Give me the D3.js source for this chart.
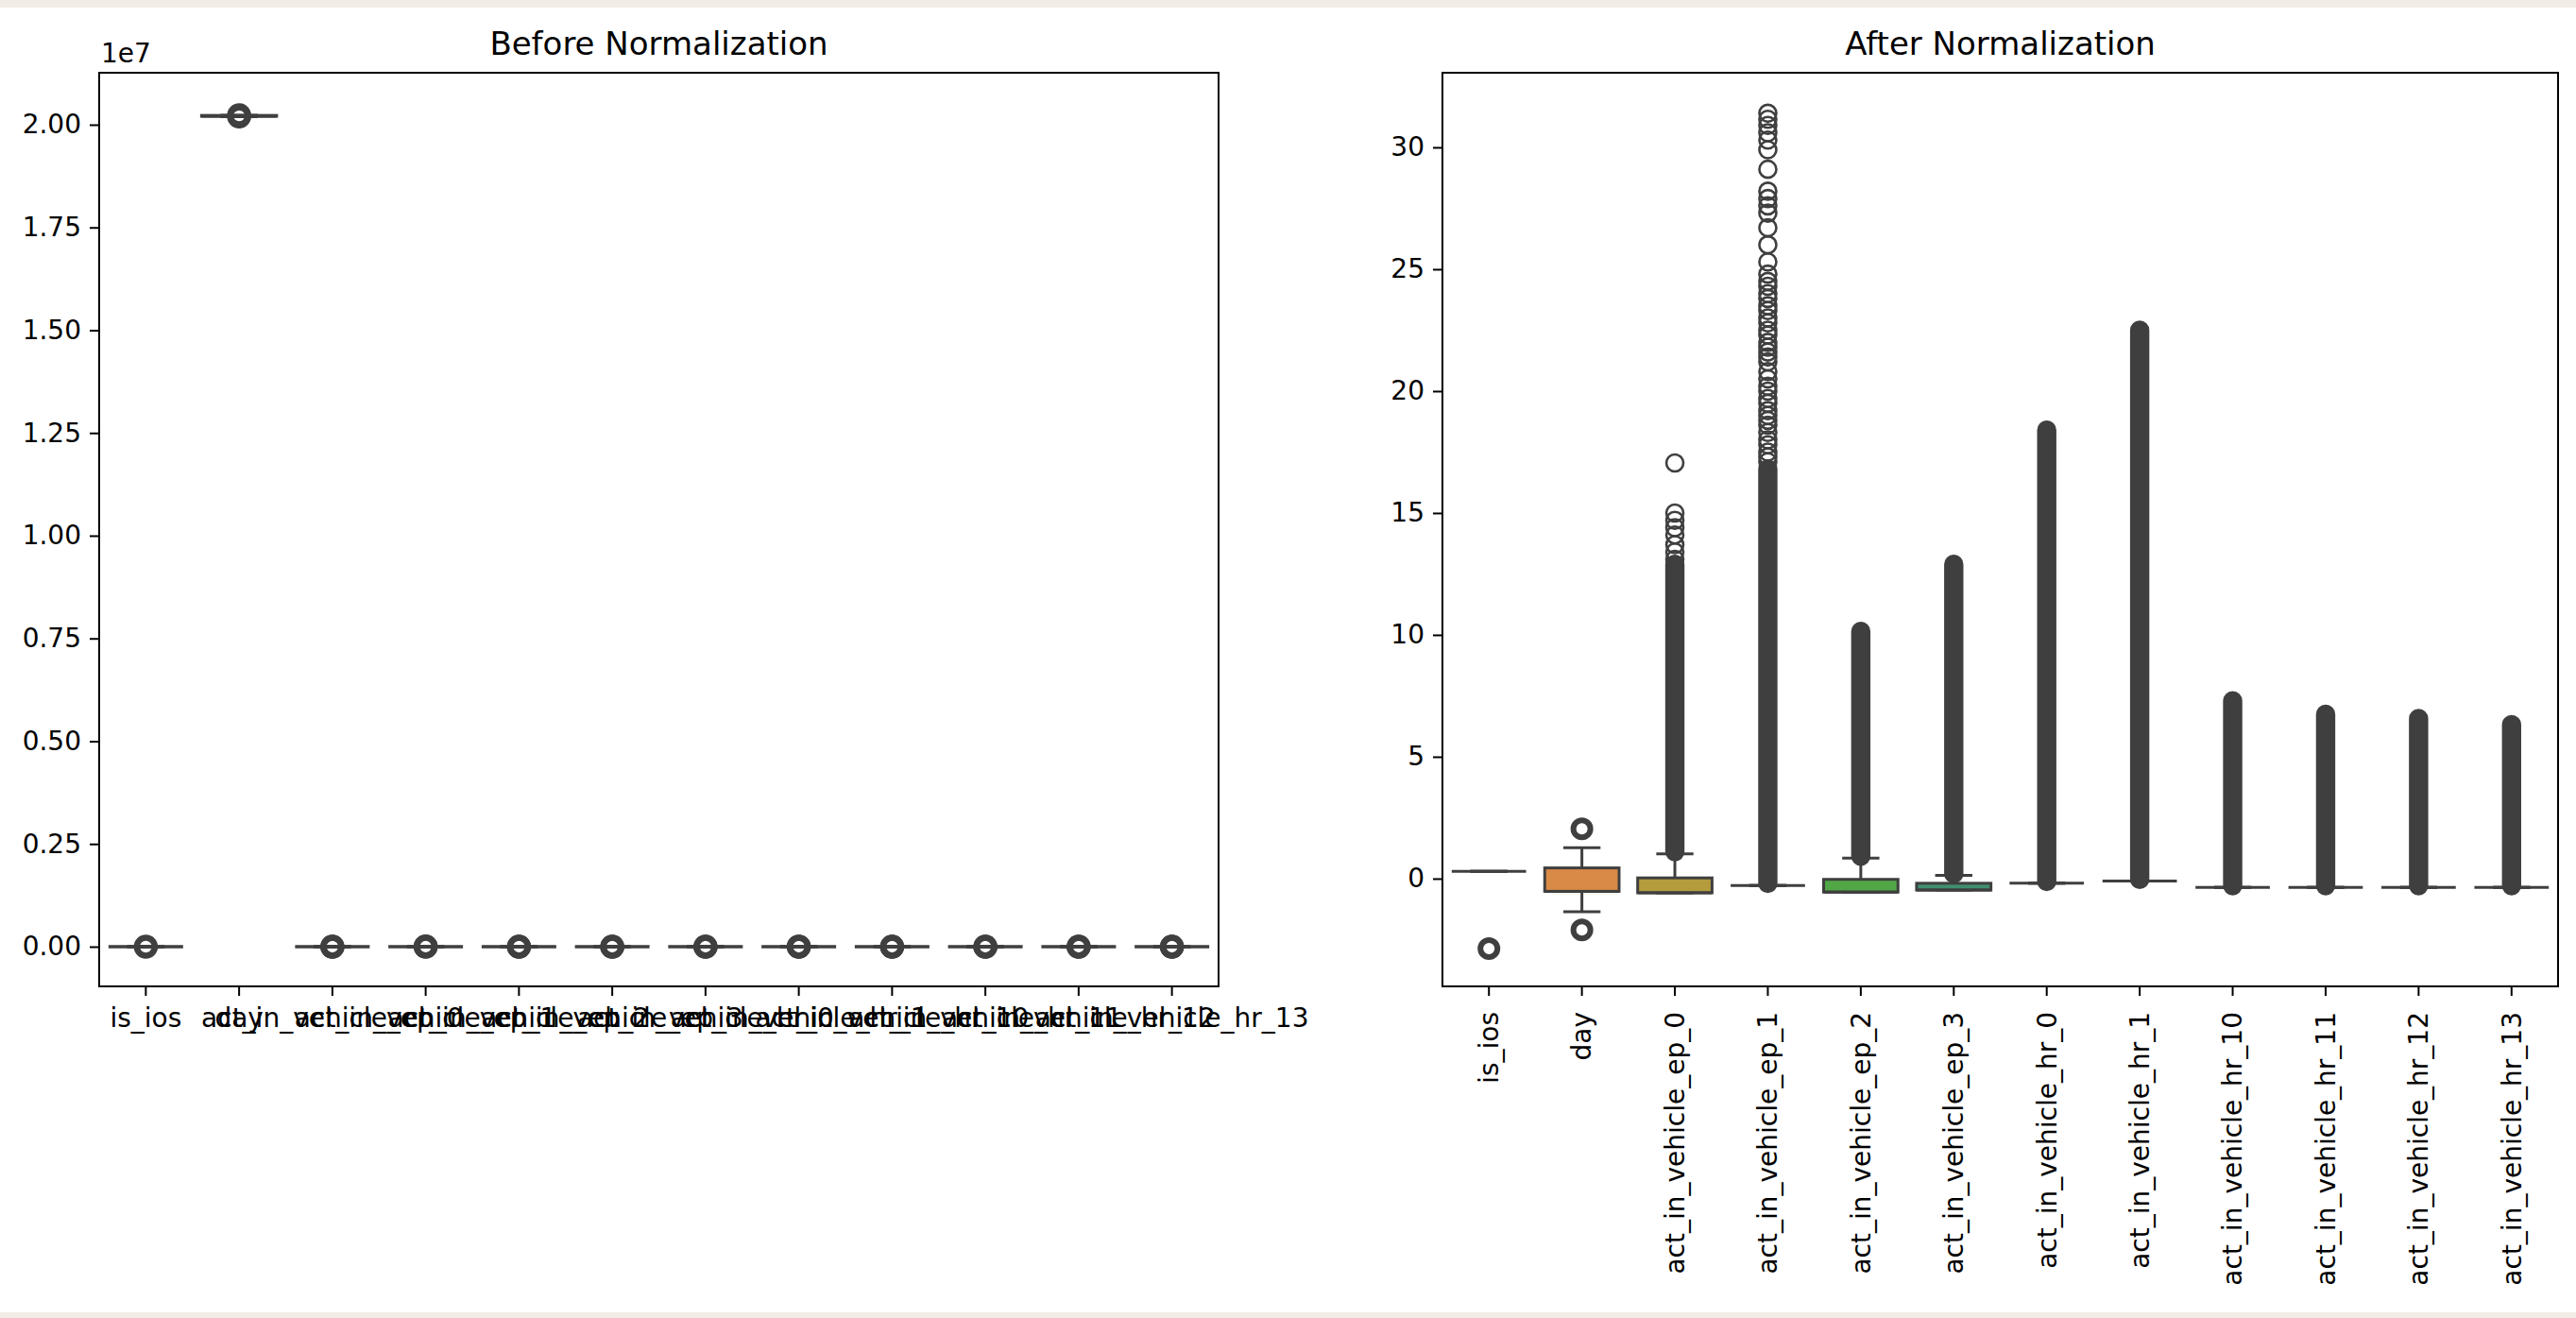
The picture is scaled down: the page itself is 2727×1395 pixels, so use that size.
<!DOCTYPE html>
<html><head><meta charset="utf-8">
<script src="https://cdn.jsdelivr.net/npm/d3@7"></script>
<style>html,body{margin:0;padding:0;background:#fff;} svg{display:block;}</style>
</head><body>
<svg id="chart" width="2727" height="1395"></svg>
<script>
// ---------- data ----------
const categories = ["is_ios","day","act_in_vehicle_ep_0","act_in_vehicle_ep_1","act_in_vehicle_ep_2","act_in_vehicle_ep_3","act_in_vehicle_hr_0","act_in_vehicle_hr_1","act_in_vehicle_hr_10","act_in_vehicle_hr_11","act_in_vehicle_hr_12","act_in_vehicle_hr_13"];

// Before normalization (raw values)
const rawLow    = [1, 20201215, 0,0,0,0,0,0,0,0,0,0];
const rawQ1     = [1, 20210615, 0,0,0,0,0,0,0,0,0,0];
const rawMedian = [1, 20210615, 0,0,0,0,0,0,0,0,0,0];
const rawQ3     = [1, 20220315, 0,0,0,0,0,0,0,0,0,0];
const rawHigh   = [1, 20220915, 0,0,0,0,0,0,0,0,0,0];
const rawOutliers = [[0],[20200102,20230330],[2,1700],[1,3100],[2,1050],[1,1300],[1,1900],[1,2300],[1,760],[1,700],[1,690],[1,660]];

// After normalization
const normLow    = [0.30, -1.36, -0.58, -0.28, -0.55, -0.47, -0.19, -0.10, -0.36, -0.36, -0.36, -0.36];
const normQ1     = [0.30, -0.52, -0.58, -0.28, -0.55, -0.47, -0.19, -0.10, -0.36, -0.36, -0.36, -0.36];
const normMedian = [0.30, -0.52, -0.58, -0.28, -0.55, -0.47, -0.19, -0.10, -0.36, -0.36, -0.36, -0.36];
const normQ3     = [0.30,  0.44,  0.03, -0.28, -0.03, -0.19, -0.19, -0.10, -0.36, -0.36, -0.36, -0.36];
const normHigh   = [0.30,  1.27,  1.02, -0.28,  0.84,  0.13, -0.19, -0.10, -0.36, -0.36, -0.36, -0.36];
// dense runs of overlapping outliers [from, to]
const normOutlierRuns = [null, null, [1.1,12.9], [-0.2,16.8], [0.92,10.15], [0.2,12.9], [-0.12,18.4], [-0.03,22.5], [-0.29,7.3], [-0.29,6.74], [-0.29,6.57], [-0.29,6.32]];
// individually visible outliers
const normOutliers = [
  [-2.87],
  [-2.10, 2.04],
  [13.1, 13.4, 13.7, 14.1, 14.4, 14.7, 15.0, 17.05],
  [17.1, 17.3, 17.5, 17.8, 18.0, 18.3, 18.6, 18.8, 19.0, 19.2, 19.5, 19.7, 20.0, 20.2, 20.5, 20.8, 21.2, 21.4, 21.6, 21.8, 22.0, 22.3, 22.5, 22.8, 23.0, 23.3, 23.5, 23.8, 24.0, 24.3, 24.5, 24.8, 25.3, 26.0, 26.7, 27.3, 27.6, 27.9, 28.2, 29.1, 29.9, 30.3, 30.6, 30.9, 31.15, 31.4],
  [], [], [], [], [], [], [], []
];

const boxColors = ["#e0868f","#d98a46","#b49b3c","#9aa73f","#51a746","#3f8e70","#42a09a","#4a96c6","#8d90d6","#b584d4","#d27bbd","#dd809f"];
const leftTicks = [0, 2500000, 5000000, 7500000, 10000000, 12500000, 15000000, 17500000, 20000000];
const rightTicks = [0, 5, 10, 15, 20, 25, 30];

// ---------- layout ----------
const svg = d3.select("#chart");
const FONT = "DejaVu Sans, Liberation Sans, sans-serif";
const GRAY = "#3f3f3f";
const TOP = 77, BOTTOM = 1044;

svg.append("rect").attr("x",0).attr("y",0).attr("width",2727).attr("height",1395).attr("fill","#ffffff");
svg.append("rect").attr("x",0).attr("y",0).attr("width",2727).attr("height",8).attr("fill","#f2ede4");
svg.append("rect").attr("x",0).attr("y",1389).attr("width",2727).attr("height",6).attr("fill","#f2ede4");

function panel(opts) {
  const g = svg.append("g");
  const x = d3.scaleBand().domain(categories).range([opts.x0, opts.x1]).padding(0);
  const y = d3.scaleLinear().domain(opts.yDomain).range([BOTTOM, TOP]);
  const bw = x.bandwidth() * 0.8;
  const r = opts.r;

  categories.forEach((c, i) => {
    const cx = x(c) + x.bandwidth() / 2;
    const bg = g.append("g");
    bg.append("line").attr("x1",cx).attr("x2",cx).attr("y1",y(opts.q1[i])).attr("y2",y(opts.low[i]))
      .attr("stroke",GRAY).attr("stroke-width",opts.lw);
    bg.append("line").attr("x1",cx).attr("x2",cx).attr("y1",y(opts.q3[i])).attr("y2",y(opts.high[i]))
      .attr("stroke",GRAY).attr("stroke-width",opts.lw);
    [opts.low[i], opts.high[i]].forEach(v => {
      bg.append("line").attr("x1",cx - bw/4).attr("x2",cx + bw/4).attr("y1",y(v)).attr("y2",y(v))
        .attr("stroke",GRAY).attr("stroke-width",opts.lw);
    });
    const yTop = y(opts.q3[i]), yBot = y(opts.q1[i]);
    bg.append("rect").attr("x",cx - bw/2).attr("y",yTop).attr("width",bw).attr("height",Math.max(0, yBot - yTop))
      .attr("fill",boxColors[i]).attr("stroke",GRAY).attr("stroke-width",opts.lw);
    bg.append("line").attr("x1",cx - bw/2).attr("x2",cx + bw/2).attr("y1",y(opts.median[i])).attr("y2",y(opts.median[i]))
      .attr("stroke",GRAY).attr("stroke-width",opts.lw);
    if (opts.runs && opts.runs[i]) {
      const [lo, hi] = opts.runs[i];
      bg.append("rect").attr("x",cx - r).attr("width",2*r)
        .attr("y",y(hi) - r).attr("height",y(lo) - y(hi) + 2*r).attr("rx",r)
        .attr("fill",GRAY).attr("stroke",GRAY).attr("stroke-width",2.4);
    }
    opts.outliers[i].forEach(v => {
      bg.append("circle").attr("cx",cx).attr("cy",y(v)).attr("r",r)
        .attr("fill","none").attr("stroke",GRAY).attr("stroke-width",opts.mw[i]);
    });
  });

  g.append("rect").attr("x",opts.x0).attr("y",TOP).attr("width",opts.x1-opts.x0).attr("height",BOTTOM-TOP)
    .attr("fill","none").attr("stroke","#000").attr("stroke-width",2);

  const ya = d3.axisLeft(y).tickValues(opts.yTicks).tickFormat(opts.yFormat).tickSize(10).tickPadding(9);
  const yg = g.append("g").attr("transform",`translate(${opts.x0},0)`).call(ya);
  const xa = d3.axisBottom(x).tickSize(10).tickPadding(13);
  const xg = g.append("g").attr("transform",`translate(0,${BOTTOM})`).call(xa);
  [yg, xg].forEach(a => {
    a.select(".domain").remove();
    a.selectAll(".tick line").attr("stroke","#000").attr("stroke-width",2);
    a.selectAll(".tick text").attr("fill","#000").style("font-family",FONT).style("font-size","28px");
  });
  if (opts.rotate) {
    xg.selectAll(".tick text").attr("transform","rotate(-90)").attr("text-anchor","end")
      .attr("x",-27).attr("y",0).attr("dy","0.35em");
  }

  g.append("text").attr("x",(opts.x0+opts.x1)/2).attr("y",58).attr("text-anchor","middle")
    .style("font-family",FONT).style("font-size","34px").attr("fill","#000").text(opts.title);
  if (opts.offset) {
    g.append("text").attr("x",opts.x0+2).attr("y",66).style("font-family",FONT).style("font-size","28px")
      .attr("fill","#000").text(opts.offset);
  }
}

panel({
  x0: 105, x1: 1290, yDomain: [-0.0966e7, 2.1264e7], yTicks: leftTicks,
  yFormat: d => d3.format(".2f")(d / 1e7), offset: "1e7",
  low: rawLow, q1: rawQ1, median: rawMedian, q3: rawQ3, high: rawHigh,
  runs: null, outliers: rawOutliers, r: 9.5, mw: categories.map(() => 6.5), lw: 3.5,
  title: "Before Normalization", rotate: false
});

panel({
  x0: 1527, x1: 2708, yDomain: [-4.42, 33.06], yTicks: rightTicks,
  yFormat: d3.format("d"),
  low: normLow, q1: normQ1, median: normMedian, q3: normQ3, high: normHigh,
  runs: normOutlierRuns, outliers: normOutliers, r: 9,
  mw: [6, 6, 2.6, 2.6, 2.6, 2.6, 2.6, 2.6, 2.6, 2.6, 2.6, 2.6], lw: 3,
  title: "After Normalization", rotate: true
});
</script>
</body></html>
